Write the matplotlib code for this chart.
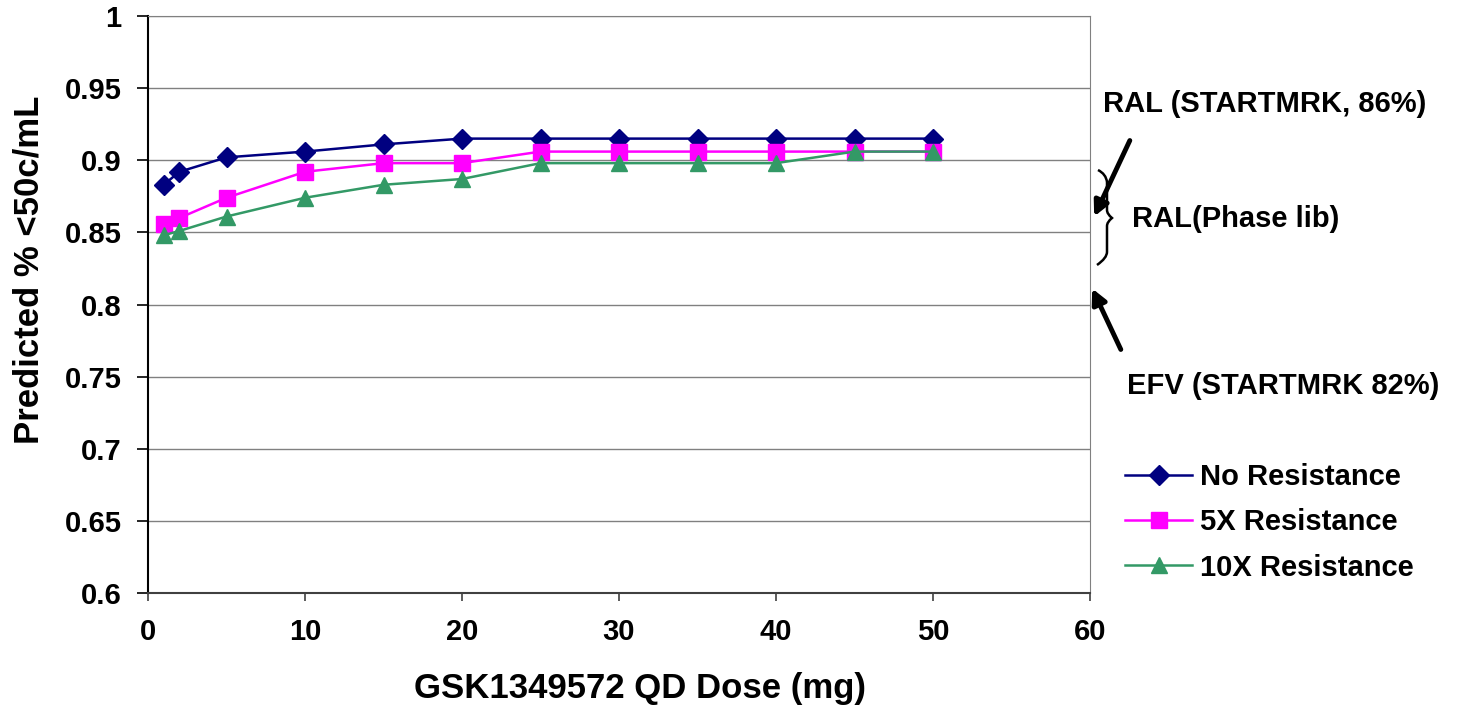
import numpy as np
import matplotlib
matplotlib.use("Agg")
import matplotlib.pyplot as plt
from matplotlib.path import Path
from matplotlib.patches import PathPatch, FancyArrowPatch
from matplotlib.transforms import Affine2D

plt.rcParams['font.family'] = ['Liberation Sans', 'DejaVu Sans']
plt.rcParams['font.weight'] = 'bold'

# data
dose = [1, 2, 5, 10, 15, 20, 25, 30, 35, 40, 45, 50]
no_res = [0.883, 0.892, 0.902, 0.906, 0.911, 0.915, 0.915, 0.915, 0.915, 0.915, 0.915, 0.915]
res_5x = [0.856, 0.860, 0.874, 0.892, 0.898, 0.898, 0.906, 0.906, 0.906, 0.906, 0.906, 0.906]
res_10x = [0.848, 0.851, 0.861, 0.874, 0.883, 0.887, 0.898, 0.898, 0.898, 0.898, 0.906, 0.906]
series_names = ["No Resistance", "5X Resistance", "10X Resistance"]
yticks = [0.6, 0.65, 0.7, 0.75, 0.8, 0.85, 0.9, 0.95, 1.0]
ytick_labels = ["0.6", "0.65", "0.7", "0.75", "0.8", "0.85", "0.9", "0.95", "1"]
xticks = [0, 10, 20, 30, 40, 50, 60]

W, H = 1457, 705
fig = plt.figure(figsize=(W/100, H/100), dpi=100)
ax = fig.add_axes([148/W, (H-593)/H, 942/W, 577/H])

ax.plot(dose, no_res, color='#000080', marker='D', ms=10, lw=1.8, label=series_names[0])
ax.plot(dose, res_5x, color='#FF00FF', marker='s', ms=11, lw=1.8, label=series_names[1])
ax.plot(dose, res_10x, color='#339966', marker='^', ms=12, lw=1.8, label=series_names[2])

ax.set_xlim(0, 60)
ax.set_ylim(0.6, 1.0)
ax.set_xticks(xticks)
ax.set_yticks(yticks)
ax.set_yticklabels(ytick_labels)
ax.tick_params(axis='y', labelsize=21, direction='out', length=8, width=1.2, pad=11)
ax.tick_params(axis='x', labelsize=21, direction='out', length=6, width=1.2, pad=12, color='#404040')
ax.grid(axis='y', color='#808080', lw=1)
ax.set_axisbelow(True)
for s in ['top', 'right']:
    ax.spines[s].set_color('#808080')
ax.spines['left'].set_linewidth(1.5)
ax.spines['bottom'].set_linewidth(1.5)
ax.spines['bottom'].set_color('#404040')

ax.set_xlabel("GSK1349572 QD Dose (mg)", fontsize=25, fontweight='bold')
ax.set_ylabel("Predicted % <50c/mL", fontsize=25, fontweight='bold')
ax.xaxis.set_label_coords((640-148)/942, (593-672)/577)
ax.yaxis.set_label_coords((46-148)/942, (593-270)/577)

leg = fig.legend(loc='upper left', bbox_to_anchor=(1099/W, 1-437/H), frameon=False,
                 fontsize=21, handlelength=2.3, labelspacing=0.59, handletextpad=0.25)

# annotations on the right side, placed in figure pixels
px = Affine2D().scale(1/W, 1/H) + fig.transFigure
def P(x, y):
    return (x, H - y)

fig.text(1103/W, 1-104/H, "RAL (STARTMRK, 86%)", fontsize=21, fontweight='bold', va='center')
fig.text(1132/W, 1-219/H, "RAL(Phase lib)", fontsize=21, fontweight='bold', va='center')
fig.text(1127/W, 1-386/H, "EFV (STARTMRK 82%)", fontsize=21, fontweight='bold', va='center')

fig.patches.append(FancyArrowPatch(P(1131, 138), P(1093, 219), transform=px, arrowstyle='-|>',
                                   mutation_scale=22, lw=3.5, color='black'))
fig.patches.append(FancyArrowPatch(P(1122, 352), P(1091, 286), transform=px, arrowstyle='-|>',
                                   mutation_scale=22, lw=3.5, color='black'))

verts = [P(1098, 170), P(1106, 174), P(1107, 182), P(1107, 182),
         P(1107, 210), P(1107, 214), P(1112, 218),
         P(1107, 222), P(1107, 226), P(1107, 226),
         P(1107, 252), P(1107, 258), P(1097, 265)]
codes = [Path.MOVETO, Path.CURVE3, Path.CURVE3, Path.LINETO,
         Path.LINETO, Path.CURVE3, Path.CURVE3,
         Path.CURVE3, Path.CURVE3, Path.LINETO,
         Path.LINETO, Path.CURVE3, Path.CURVE3]
fig.patches.append(PathPatch(Path(verts, codes), transform=px, fill=False, lw=1.8, color='black'))

fig.savefig("out.png", dpi=100)
